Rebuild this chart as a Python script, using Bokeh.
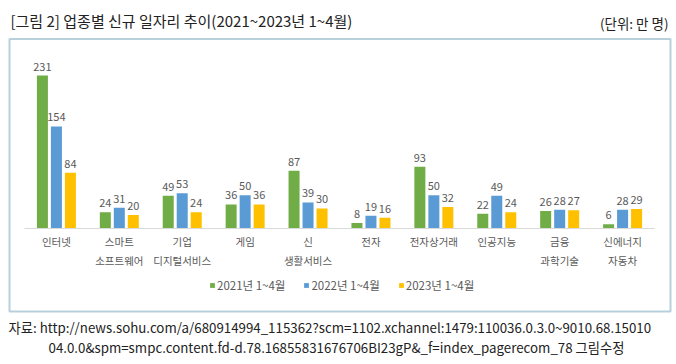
from bokeh.plotting import figure
from bokeh.models import (ColumnDataSource, FactorRange, Range1d, Legend, LegendItem, Label, BoxAnnotation)
from bokeh.transform import dodge
from bokeh.core.properties import value
from bokeh.embed import file_html
from bokeh.resources import INLINE

categories = ["인터넷", "스마트\n소프트웨어", "기업\n디지털서비스", "게임", "신\n생활서비스",
              "전자", "전자상거래", "인공지능", "금융\n과학기술", "신에너지\n자동차"]
y2021 = [231, 24, 49, 36, 87, 8, 93, 22, 26, 6]
y2022 = [154, 31, 53, 50, 39, 19, 50, 49, 28, 28]
y2023 = [84, 20, 24, 36, 30, 16, 32, 24, 27, 29]
series_names = ["2021년 1~4월", "2022년 1~4월", "2023년 1~4월"]
colors = ["#70AD47", "#5B9BD5", "#FFC000"]

title_text = "[그림 2] 업종별 신규 일자리 추이(2021~2023년 1~4월)"
unit_text = "(단위: 만 명)"
source_line1 = "자료:  http://news.sohu.com/a/680914994_115362?scm=1102.xchannel:1479:110036.0.3.0~9010.68.15010"
source_line2 = "04.0.0&spm=smpc.content.fd-d.78.16855831676706BI23gP&_f=index_pagerecom_78 그림수정"

FONT = "Noto Sans CJK KR"
W, H = 676, 364

src = ColumnDataSource(dict(
    cat=categories,
    y2021=y2021, y2022=y2022, y2023=y2023,
    l2021=[str(v) for v in y2021],
    l2022=[str(v) for v in y2022],
    l2023=[str(v) for v in y2023],
))

p = figure(width=W, height=H,
           x_range=FactorRange(*categories, range_padding=0.357, range_padding_units="absolute"),
           y_range=Range1d(-206.2, 344.5),
           output_backend="svg", toolbar_location=None, title=None,
           min_border_left=2, min_border_right=0, min_border_top=0, min_border_bottom=0)

p.background_fill_color = "white"
p.border_fill_color = "white"
p.outline_line_color = None
p.xgrid.visible = False
p.ygrid.visible = False
p.yaxis.visible = False

xa = p.xaxis[0]
xa.fixed_location = 0
xa.bounds = (0, len(categories))
xa.axis_line_color = "#D9D9D9"
xa.axis_line_width = 1
xa.major_tick_line_color = None
xa.minor_tick_line_color = None
xa.major_tick_in = 0
xa.major_tick_out = 0
xa.major_label_standoff = 6
xa.major_label_text_font = FONT
xa.major_label_text_font_size = "10.5px"
xa.major_label_text_color = "#595959"
xa.major_label_text_line_height = 1.25

# frame box around the chart area
p.add_layout(BoxAnnotation(left=7, right=668, top=325.5, bottom=53,
                           left_units="screen", right_units="screen",
                           top_units="screen", bottom_units="screen",
                           fill_color=None, fill_alpha=0,
                           line_color="#15648C", line_width=2))

offsets = [-0.2225, 0.0, 0.2225]
keys = ["2021", "2022", "2023"]
items = []
for k, off, col, name in zip(keys, offsets, colors, series_names):
    r = p.vbar(x=dodge("cat", off, range=p.x_range), top="y" + k, bottom=0, width=0.175,
               source=src, fill_color=col, line_color=None)
    p.text(x=dodge("cat", off, range=p.x_range), y="y" + k, text="l" + k, source=src,
           text_align="center", text_baseline="bottom", y_offset=-5,
           text_font=value(FONT), text_font_size="11px", text_color="#595959")
    items.append(LegendItem(label=name, renderers=[r]))

legend = Legend(items=items, orientation="horizontal", location=(207, 71),
                glyph_width=6, glyph_height=6, label_standoff=2, spacing=18,
                padding=0, margin=0, border_line_color=None, background_fill_alpha=0,
                label_text_font=FONT, label_text_font_size="11.5px", label_text_color="#595959")
p.add_layout(legend)

p.add_layout(Label(x=8, y=344.5, x_units="screen", y_units="screen", text=title_text,
                   text_font=FONT, text_font_size="15px", text_color="#222222",
                   text_baseline="middle", text_align="left"))
p.add_layout(Label(x=666, y=342, x_units="screen", y_units="screen", text=unit_text,
                   text_font=FONT, text_font_size="13.5px", text_color="#222222",
                   text_baseline="middle", text_align="right"))
p.add_layout(Label(x=6, y=37, x_units="screen", y_units="screen", text=source_line1,
                   text_font=FONT, text_font_size="13.3px", text_color="#222222",
                   text_baseline="middle", text_align="left"))
p.add_layout(Label(x=46, y=17, x_units="screen", y_units="screen", text=source_line2,
                   text_font=FONT, text_font_size="13.3px", text_color="#222222",
                   text_baseline="middle", text_align="left"))

open("out.html", "w").write(file_html(p, INLINE))
